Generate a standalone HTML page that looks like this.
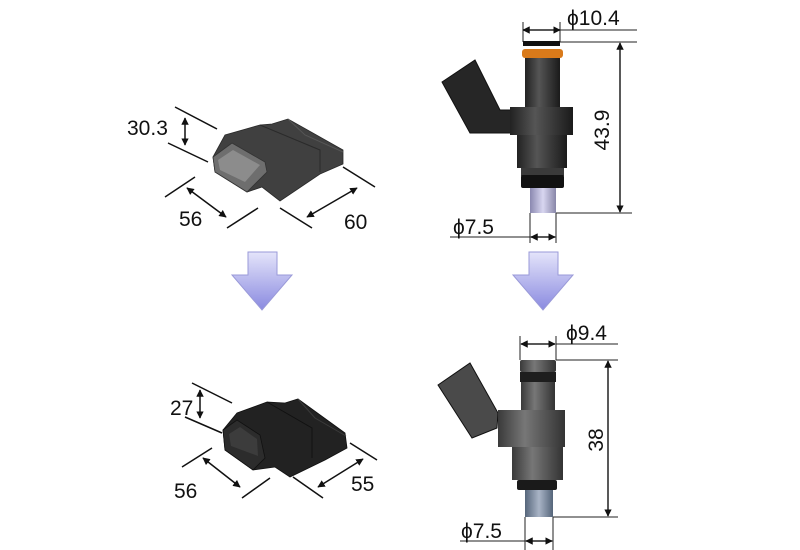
<!DOCTYPE html>
<html><head><meta charset="utf-8"><style>
html,body{margin:0;padding:0;background:#fff}
svg{display:block}
text{font-family:"Liberation Sans",Arial,sans-serif;fill:#111}
</style></head><body>
<svg width="800" height="550" viewBox="0 0 800 550" xmlns="http://www.w3.org/2000/svg">
<defs>
<marker id="a" viewBox="0 0 10 10" refX="9" refY="5" markerWidth="5" markerHeight="5" orient="auto-start-reverse"><path d="M0,0L10,5L0,10z" fill="#111"/></marker>
<linearGradient id="ar" x1="0" y1="0" x2="0" y2="1"><stop offset="0" stop-color="#e4e4fa"/><stop offset="1" stop-color="#8a8ae0"/></linearGradient>
<linearGradient id="cy" x1="0" y1="0" x2="1" y2="0"><stop offset="0" stop-color="#222"/><stop offset="0.4" stop-color="#555"/><stop offset="1" stop-color="#1a1a1a"/></linearGradient>
<linearGradient id="cy2" x1="0" y1="0" x2="1" y2="0"><stop offset="0" stop-color="#3a3a3a"/><stop offset="0.4" stop-color="#777"/><stop offset="1" stop-color="#333"/></linearGradient>
<linearGradient id="nz" x1="0" y1="0" x2="1" y2="0"><stop offset="0" stop-color="#8a88b0"/><stop offset="0.5" stop-color="#d8d6f0"/><stop offset="1" stop-color="#8886a8"/></linearGradient>
<linearGradient id="nz2" x1="0" y1="0" x2="1" y2="0"><stop offset="0" stop-color="#55657a"/><stop offset="0.5" stop-color="#a9b4c6"/><stop offset="1" stop-color="#55657a"/></linearGradient>
</defs>
<g stroke="#111" stroke-width="1.5" fill="none">
<line x1="175" y1="107" x2="217" y2="129"/><line x1="168" y1="143" x2="208" y2="162"/>
<line x1="185" y1="118" x2="185" y2="145" marker-start="url(#a)" marker-end="url(#a)"/>
<line x1="165" y1="197" x2="195" y2="177"/><line x1="227" y1="228" x2="258" y2="208"/>
<line x1="187" y1="188" x2="226" y2="217" marker-start="url(#a)" marker-end="url(#a)"/>
<line x1="280" y1="208" x2="312" y2="228"/><line x1="343" y1="167" x2="375" y2="187"/>
<line x1="307" y1="217" x2="357" y2="188" marker-start="url(#a)" marker-end="url(#a)"/>
<line x1="192" y1="383" x2="232" y2="403"/><line x1="185" y1="417" x2="222" y2="433"/>
<line x1="200" y1="390" x2="200" y2="418" marker-start="url(#a)" marker-end="url(#a)"/>
<line x1="182" y1="467" x2="212" y2="448"/><line x1="242" y1="498" x2="270" y2="478"/>
<line x1="203" y1="458" x2="240" y2="487" marker-start="url(#a)" marker-end="url(#a)"/>
<line x1="293" y1="477" x2="323" y2="498"/><line x1="350" y1="443" x2="377" y2="460"/>
<line x1="318" y1="487" x2="363" y2="459" marker-start="url(#a)" marker-end="url(#a)"/>
</g>
<g stroke="#222" stroke-width="1" fill="none">
<line x1="523" y1="22" x2="523" y2="42"/><line x1="560" y1="22" x2="560" y2="42"/>
<line x1="523" y1="30" x2="560" y2="30" marker-start="url(#a)" marker-end="url(#a)" stroke-width="1.5"/>
<line x1="560" y1="30" x2="637" y2="30"/><line x1="560" y1="42" x2="637" y2="42"/>
<line x1="556" y1="213" x2="632" y2="213"/>
<line x1="620" y1="43" x2="620" y2="212" marker-start="url(#a)" marker-end="url(#a)" stroke-width="1.5"/>
<line x1="450" y1="237" x2="556" y2="237"/>
<line x1="530" y1="213" x2="530" y2="243"/><line x1="556" y1="213" x2="556" y2="243"/>
<line x1="531" y1="237" x2="555" y2="237" marker-start="url(#a)" marker-end="url(#a)" stroke-width="1.5"/>
<line x1="520" y1="336" x2="520" y2="360"/><line x1="556" y1="336" x2="556" y2="360"/>
<line x1="521" y1="344" x2="555" y2="344" marker-start="url(#a)" marker-end="url(#a)" stroke-width="1.5"/>
<line x1="556" y1="344" x2="618" y2="344"/><line x1="556" y1="360" x2="618" y2="360"/>
<line x1="553" y1="517" x2="618" y2="517"/>
<line x1="608" y1="361" x2="608" y2="516" marker-start="url(#a)" marker-end="url(#a)" stroke-width="1.5"/>
<line x1="460" y1="541" x2="553" y2="541"/>
<line x1="525" y1="517" x2="525" y2="550"/><line x1="553" y1="517" x2="553" y2="550"/>
<line x1="526" y1="541" x2="552" y2="541" marker-start="url(#a)" marker-end="url(#a)" stroke-width="1.5"/>
</g>
<!-- top connector -->
<polygon points="213,157 225,135 260,125 272,124 288,119 343,150 343,164 320,174 280,201 262,187 247,192 215,172" fill="#404040" stroke="#2a2a2a" stroke-width="0.8"/>
<polyline points="260,125 320,150 320,172" fill="none" stroke="#2a2a2a" stroke-width="1"/>
<polyline points="288,119 305,135 343,152" fill="none" stroke="#555" stroke-width="1"/>
<polygon points="213,157 232,143 265,162 267,172 247,192 215,172" fill="#6e6e6e" stroke="#333" stroke-width="0.8"/>
<polygon points="218,160 233,150 260,165 245,182 220,170" fill="#8c8c8c"/>
<!-- bottom connector -->
<polygon points="223,430 237,413 267,402 285,403 298,399 345,433 347,448 325,460 290,477 275,467 253,470 225,450" fill="#222" stroke="#111" stroke-width="0.8"/>
<polyline points="267,402 312,428 312,458" fill="none" stroke="#111" stroke-width="1"/>
<polyline points="298,399 315,418 346,436" fill="none" stroke="#3a3a3a" stroke-width="1"/>
<polygon points="223,430 237,420 260,435 265,458 253,470 225,450" fill="#2c2c2c" stroke="#111" stroke-width="0.8"/>
<polygon points="229,434 240,427 257,439 258,456 231,446" fill="#3c3c3c"/>
<polygon points="248,252 277,252 277,275 292,275 262,310 232,275 248,275" fill="url(#ar)" stroke="#9a9ad8" stroke-width="1"/>
<polygon points="529,252 558,252 558,275 573,275 543,310 513,275 529,275" fill="url(#ar)" stroke="#9a9ad8" stroke-width="1"/>
<rect x="523" y="41" width="37" height="5" fill="#111"/>
<rect x="522" y="49" width="41" height="9" rx="3" fill="#d97a1a"/>
<rect x="525" y="58" width="35" height="50" fill="url(#cy)"/>
<polygon points="442,82 475,60 500,110 520,110 520,133 470,133" fill="#262626" stroke="#111"/>
<rect x="510" y="107" width="63" height="28" fill="url(#cy)"/>
<rect x="517" y="135" width="50" height="33" fill="url(#cy)"/>
<rect x="521" y="168" width="43" height="8" fill="#3a3a3a"/>
<rect x="521" y="175" width="43" height="13" rx="2" fill="#111"/>
<rect x="530" y="188" width="26" height="25" fill="url(#nz)"/>
<rect x="520" y="360" width="36" height="12" rx="2" fill="url(#cy2)"/>
<rect x="520" y="372" width="36" height="10" fill="#1e1e1e"/>
<rect x="521" y="382" width="34" height="28" fill="url(#cy2)"/>
<polygon points="438,385 470,363 498,413 497,428 472,438" fill="#4a4a4a" stroke="#111"/>
<rect x="498" y="410" width="67" height="37" fill="url(#cy2)"/>
<rect x="512" y="447" width="51" height="33" fill="url(#cy2)"/>
<rect x="517" y="480" width="40" height="10" rx="2" fill="#1a1a1a"/>
<rect x="525" y="490" width="28" height="27" fill="url(#nz2)"/>
<g font-size="21">
<text x="127" y="135">30.3</text>
<text x="179" y="226">56</text>
<text x="344" y="229">60</text>
<text x="170" y="415">27</text>
<text x="174" y="498">56</text>
<text x="351" y="491">55</text>
<text x="567" y="25">ϕ10.4</text>
<text x="453" y="234">ϕ7.5</text>
<text x="566" y="340">ϕ9.4</text>
<text x="461" y="538">ϕ7.5</text>
<text transform="translate(609,130) rotate(-90)" text-anchor="middle">43.9</text>
<text transform="translate(603,440) rotate(-90)" text-anchor="middle">38</text>
</g>
</svg>
</body></html>
